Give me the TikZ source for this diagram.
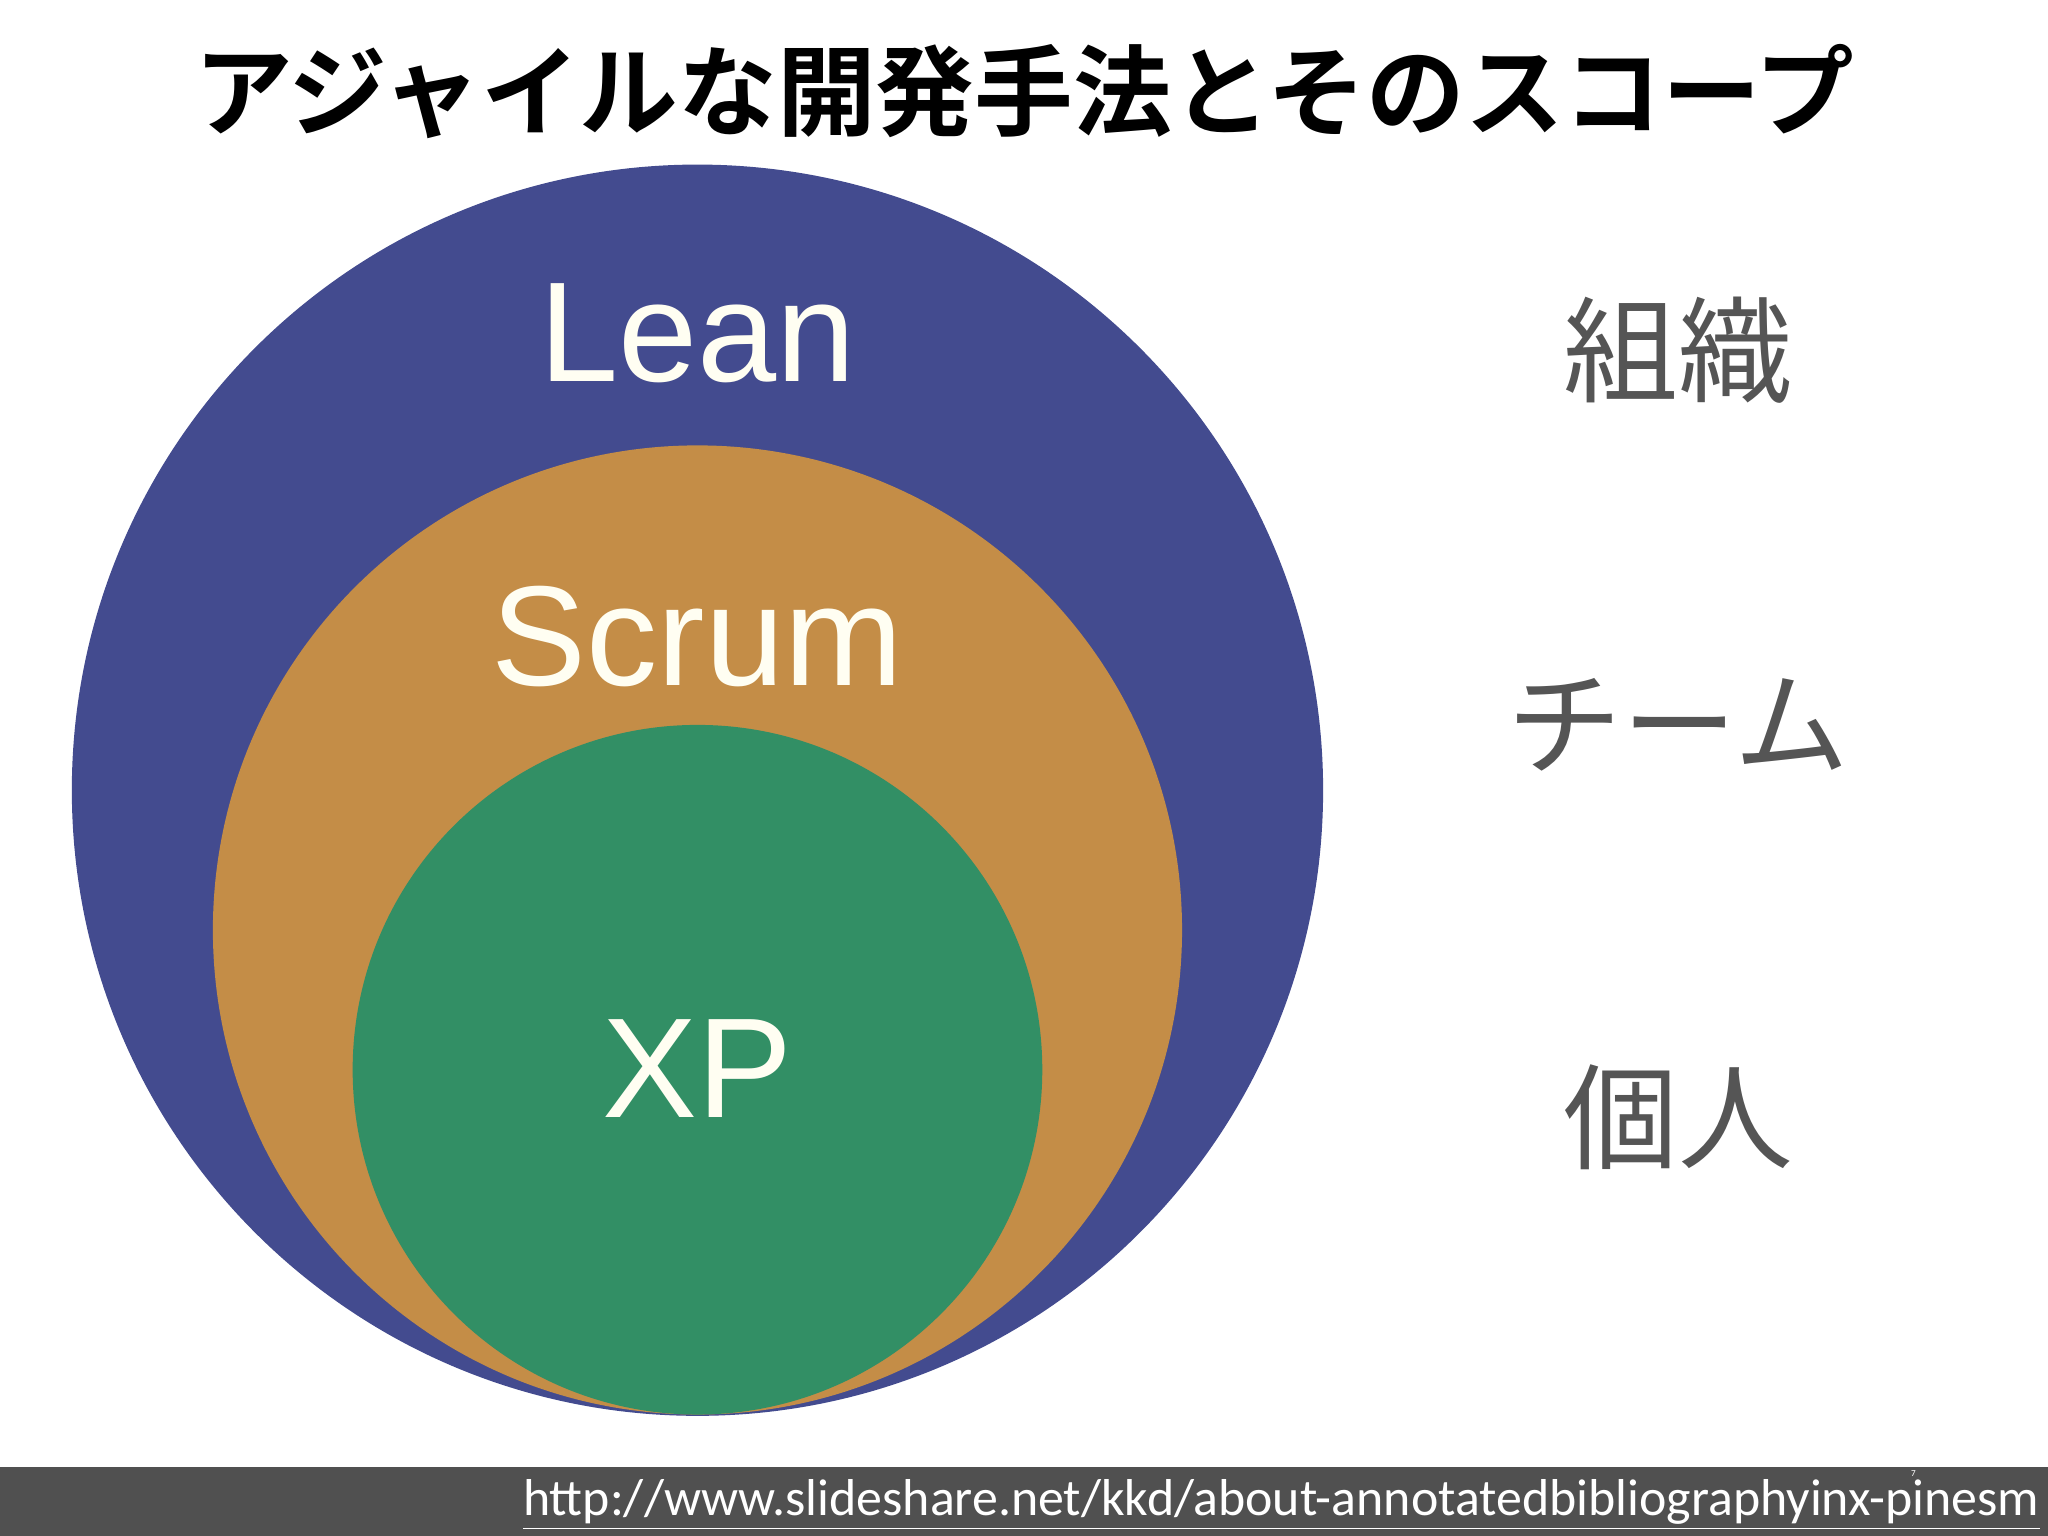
\documentclass[tikz,border=0pt]{standalone}
\usepackage{fontspec}
\setmainfont{Liberation Sans}
\newfontfamily\jpfont{Noto Sans CJK JP}
\newfontfamily\jpbfont{Noto Sans CJK JP}[BoldFont={Noto Sans CJK JP Bold}]
\newfontfamily\urlfont{Carlito}
\definecolor{leanc}{HTML}{434B8F}
\definecolor{scrumc}{HTML}{C48D47}
\definecolor{xpc}{HTML}{328F65}
\definecolor{lbl}{HTML}{555555}
\definecolor{barc}{HTML}{505050}
\tikzset{inlabel/.style={text=white!95!yellow,font=\fontsize{62}{70}\selectfont},
sidelabel/.style={text=lbl,font=\jpfont\fontsize{50}{56}\selectfont}}
\begin{document}
\begin{tikzpicture}[x=0.02cm,y=-0.02cm]
\useasboundingbox (0,0) rectangle (1568,1176);
\fill[white] (0,0) rectangle (1568,1176);
\node (title) at (784,70) {\jpbfont\bfseries\fontsize{43}{48}\selectfont アジャイルな開発手法とそのスコープ};
\fill[leanc] (534,605) circle (479);
\fill[scrumc] (534,712) circle (371);
\fill[xpc] (534,819) circle (264);
\node[inlabel] (lean) at (534,255) {Lean};
\node[inlabel] (scrum) at (534,487) {Scrum};
\node[inlabel] (xp) at (534,818) {XP};
\node[sidelabel] (org) at (1285,268) {組織};
\node[sidelabel] (team) at (1285,555) {チーム};
\node[sidelabel] (ind) at (1285,855) {個人};
\fill[barc] (0,1123) rectangle (1568,1176);
\node[anchor=east,text=white,font=\urlfont\fontsize{22.6}{26}\selectfont,inner sep=0pt] (url) at (1562,1152) {\underline{http://www.slideshare.net/kkd/about-annotatedbibliographyinx-pinesm}};
\node[text=white,font=\urlfont\fontsize{4}{5}\selectfont,inner sep=0pt] (pg) at (1465,1128) {7};
\end{tikzpicture}
\end{document}
